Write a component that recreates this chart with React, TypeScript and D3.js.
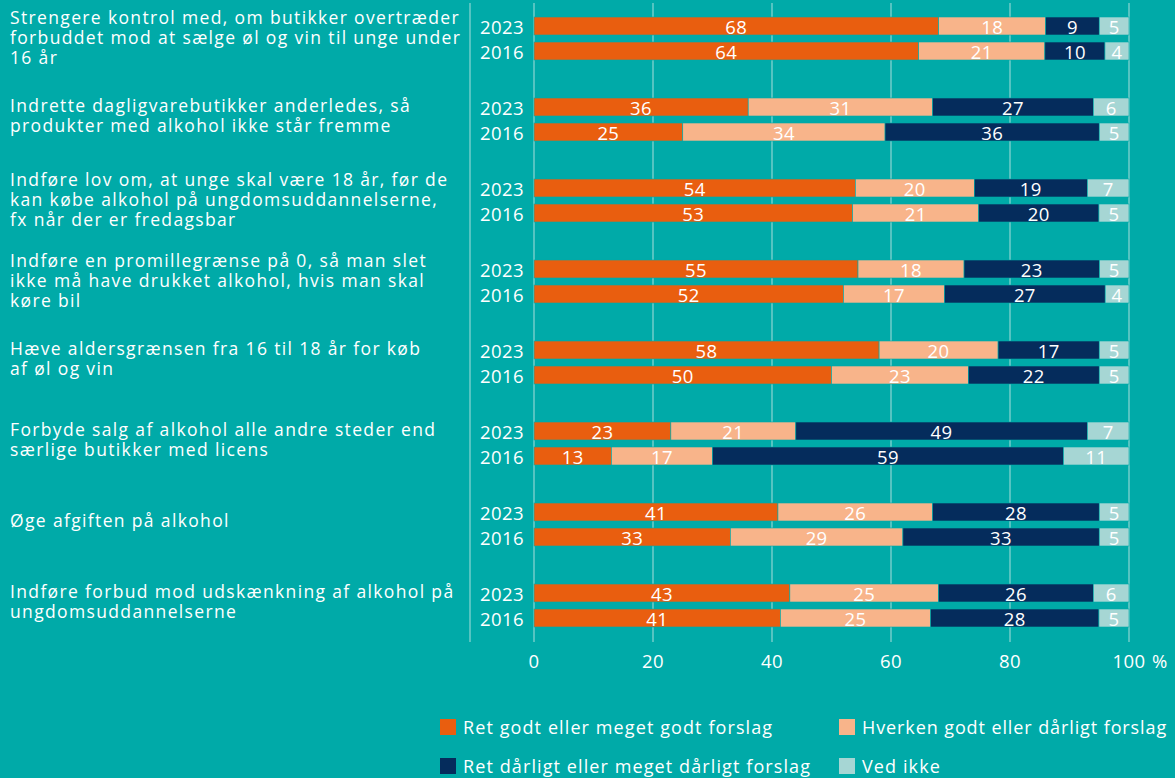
import React from "react";
import * as d3 from "d3";

const categories: string[][] = [
  ["Strengere kontrol med, om butikker overtræder", "forbuddet mod at sælge øl og vin til unge under", "16 år"],
  ["Indrette dagligvarebutikker anderledes, så", "produkter med alkohol ikke står fremme"],
  ["Indføre lov om, at unge skal være 18 år, før de", "kan købe alkohol på ungdomsuddannelserne,", "fx når der er fredagsbar"],
  ["Indføre en promillegrænse på 0, så man slet", "ikke må have drukket alkohol, hvis man skal", "køre bil"],
  ["Hæve aldersgrænsen fra 16 til 18 år for køb", "af øl og vin"],
  ["Forbyde salg af alkohol alle andre steder end", "særlige butikker med licens"],
  ["Øge afgiften på alkohol"],
  ["Indføre forbud mod udskænkning af alkohol på", "ungdomsuddannelserne"],
];

const years = ["2023", "2016"];

const seriesNames = [
  "Ret godt eller meget godt forslag",
  "Hverken godt eller dårligt forslag",
  "Ret dårligt eller meget dårligt forslag",
  "Ved ikke",
];

const colors = ["#e95e0f", "#f8b48a", "#052c5c", "#a6d6d4"];

// values per category for each year: [good, neither, bad, don't know]
const good2023 = [68, 36, 54, 55, 58, 23, 41, 43];
const neither2023 = [18, 31, 20, 18, 20, 21, 26, 25];
const bad2023 = [9, 27, 19, 23, 17, 49, 28, 26];
const dk2023 = [5, 6, 7, 5, 5, 7, 5, 6];

const good2016 = [64, 25, 53, 52, 50, 13, 33, 41];
const neither2016 = [21, 34, 21, 17, 23, 17, 29, 25];
const bad2016 = [10, 36, 20, 27, 22, 59, 33, 28];
const dk2016 = [4, 5, 5, 4, 5, 11, 5, 5];

const xTicks = [0, 20, 40, 60, 80, 100];

const BG = "#00aaa8";
const GRID = "#8ed5d3";
const FONT = "'Open Sans', sans-serif";

export default function App() {
  const W = 1175;
  const H = 778;
  const x = d3.scaleLinear().domain([0, 100]).range([534, 1129]);
  const yOuter = d3
    .scaleBand<number>()
    .domain(d3.range(categories.length))
    .range([-2, -2 + 81 * categories.length])
    .padding(0);
  const yInner = d3
    .scaleBand<string>()
    .domain(years)
    .range([0, yOuter.bandwidth()])
    .paddingInner(0.28)
    .paddingOuter(0.76);

  const rows = categories.map((_, i) => ({
    "2023": [good2023[i], neither2023[i], bad2023[i], dk2023[i]],
    "2016": [good2016[i], neither2016[i], bad2016[i], dk2016[i]],
  }));

  const gridTop = 3;
  const gridBottom = 642;
  const lineH = 20;

  return (
    <svg
      width={W}
      height={H}
      style={{ position: "absolute", left: 0, top: 0, display: "block" }}
      fontFamily={FONT}
    >
      <rect x={0} y={0} width={W} height={H} fill={BG} />
      <line x1={470} x2={470} y1={gridTop} y2={gridBottom} stroke={GRID} strokeWidth={1.2} />
      {xTicks.map((t) => (
        <line key={t} x1={x(t)} x2={x(t)} y1={gridTop} y2={gridBottom} stroke={GRID} strokeWidth={1.2} />
      ))}
      {rows.map((row, i) => {
        const g0 = yOuter(i)!;
        const lines = categories[i];
        const offset = lines.length === 3 ? -1.5 : -5;
        const center = g0 + yOuter.bandwidth() / 2 + offset;
        const firstY = center - ((lines.length - 1) * lineH) / 2;
        return (
          <g key={i}>
            {years.map((yr) => {
              const vals = (row as any)[yr] as number[];
              const total = d3.sum(vals);
              const scaled = vals.map((v) => (v * 100) / total);
              const cum = d3.cumsum(scaled);
              const y0 = g0 + yInner(yr)!;
              const bh = yInner.bandwidth();
              return (
                <g key={yr}>
                  <text
                    x={524}
                    y={y0 + bh / 2}
                    textAnchor="end"
                    dominantBaseline="central"
                    fill="#fff"
                    fontSize={18.5}
                    letterSpacing={0.4}
                  >
                    {yr}
                  </text>
                  {scaled.map((v, k) => {
                    const start = k === 0 ? 0 : cum[k - 1];
                    const end = cum[k];
                    return (
                      <g key={k}>
                        <rect
                          x={x(start)}
                          y={y0}
                          width={x(end) - x(start)}
                          height={bh}
                          fill={colors[k]}
                          stroke={BG}
                          strokeWidth={0.6}
                        />
                        <text
                          x={(x(start) + x(end)) / 2}
                          y={y0 + bh / 2}
                          textAnchor="middle"
                          dominantBaseline="central"
                          fill="#fff"
                          fontSize={18.5}
                          letterSpacing={0.4}
                        >
                          {vals[k]}
                        </text>
                      </g>
                    );
                  })}
                </g>
              );
            })}
            {lines.map((ln, j) => (
              <text
                key={j}
                x={10}
                y={firstY + j * lineH}
                dominantBaseline="central"
                fill="#fff"
                fontSize={17.5}
                letterSpacing={1.35}
              >
                {ln}
              </text>
            ))}
          </g>
        );
      })}
      {xTicks.map((t) => (
        <text key={t} x={x(t)} y={668} textAnchor="middle" fill="#fff" fontSize={18.5} letterSpacing={0.4}>
          {t}
        </text>
      ))}
      <text x={x(100) + 23} y={668} textAnchor="start" fill="#fff" fontSize={18.5}>
        %
      </text>
      {seriesNames.map((name, k) => {
        const col = k % 2;
        const row = Math.floor(k / 2);
        const lx = col === 0 ? 440 : 839;
        const ly = row === 0 ? 719 : 758;
        return (
          <g key={name}>
            <rect x={lx} y={ly} width={16} height={16} fill={colors[k]} />
            <text
              x={lx + 23}
              y={ly + 8}
              dominantBaseline="central"
              fill="#fff"
              fontSize={18}
              letterSpacing={k === 1 ? 0.9 : 1.1}
            >
              {name}
            </text>
          </g>
        );
      })}
    </svg>
  );
}
